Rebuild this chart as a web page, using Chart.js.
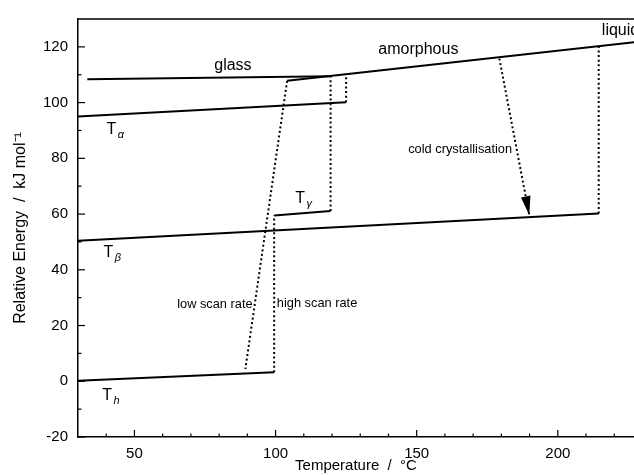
<!DOCTYPE html>
<html><head><meta charset="utf-8">
<script src="https://cdn.jsdelivr.net/npm/chart.js@4"></script>
<style>html,body{margin:0;padding:0;background:#fff;overflow:hidden}#wrap{width:634px;height:475px}</style>
</head><body><div id="wrap"><canvas id="c" width="634" height="475"></canvas></div>
<script>
// ---- axes ----
const xRange = [30, 227];
const yRange = [-20, 130];
const xTicks = [50, 100, 150, 200];
const xMinorTicks = [40, 60, 70, 80, 90, 110, 120, 130, 140, 160, 170, 180, 190, 210, 220];
const yTicks = [-20, 0, 20, 40, 60, 80, 100, 120];
const yMinorTicks = [-10, 10, 30, 50, 70, 90, 110];

// ---- solid lines [temperature, energy] ----
const glassLine = [[33.3, 108.4], [119.5, 109.5]];
const amorphousLine = [[104.1, 107.8], [227, 121.7]];
const tAlphaLine = [[30, 95.0], [125, 100.1]];
const tBetaLine = [[30, 50.4], [214.5, 60.2]];
const tGammaLine = [[99.5, 59.5], [119.5, 61.1]];
const tHLine = [[30, 0.2], [99.5, 3.2]];

// ---- dotted lines ----
const lowScanRate = [[104.1, 107.8], [89.3, 4.4]];
const highScanRate = [[99.5, 3.2], [99.5, 59.5]];
const gammaToGlass = [[119.5, 61.1], [119.5, 109.5]];
const alphaToAmorphous = [[125, 100.1], [125, 110.2]];
const melting = [[214.5, 60.2], [214.5, 120.4]];
const coldCrystallisation = [[179.3, 115.8], [189.9, 59.6]];

// ---- text labels ----
const bigLabels = [
  {text: 'glass', x: 84.9, y: 111.6, align: 'center'},
  {text: 'amorphous', x: 150.6, y: 117.5, align: 'center'},
  {text: 'liquid', x: 215.6, y: 124.1, align: 'left'}
];
const smallLabels = [
  {text: 'low scan rate', x: 78.5, y: 26.4},
  {text: 'high scan rate', x: 114.7, y: 26.8},
  {text: 'cold crystallisation', x: 165.4, y: 82.0}
];
const phaseLabels = [
  {main: 'T', sub: 'α', x: 40.1, y: 88.9},
  {main: 'T', sub: 'β', x: 39.0, y: 44.5},
  {main: 'T', sub: 'h', x: 38.6, y: -6.9},
  {main: 'T', sub: 'γ', x: 107.0, y: 64.0}
];

const FONT = 'Liberation Sans, Arial, Helvetica, sans-serif';
const toPts = a => a.map(([x, y]) => ({x, y}));
const solid = d => ({data: toPts(d), borderColor: '#000', backgroundColor: '#000', borderWidth: 2,
  pointRadius: 0, showLine: true, fill: false, tension: 0, borderCapStyle: 'butt'});
const dotted = d => Object.assign(solid(d), {borderDash: [2, 2.6], borderWidth: 2});

const decor = {
  id: 'decor',
  afterDatasetsDraw(chart) {
    const {ctx, chartArea: ca} = chart;
    const xs = chart.scales.x, ys = chart.scales.y;
    ctx.save();
    ctx.strokeStyle = '#000';
    ctx.fillStyle = '#000';
    // top frame line
    ctx.lineWidth = 1.5;
    ctx.beginPath(); ctx.moveTo(ca.left, ca.top); ctx.lineTo(ca.right, ca.top); ctx.stroke();
    // inward ticks
    ctx.lineWidth = 1.2;
    const tick = (x1, y1, x2, y2) => { ctx.beginPath(); ctx.moveTo(x1, y1); ctx.lineTo(x2, y2); ctx.stroke(); };
    xTicks.forEach(v => { const p = xs.getPixelForValue(v); tick(p, ca.bottom, p, ca.bottom - 7); });
    xMinorTicks.forEach(v => { const p = xs.getPixelForValue(v); tick(p, ca.bottom, p, ca.bottom - 3.5); });
    yTicks.forEach(v => { const p = ys.getPixelForValue(v); tick(ca.left, p, ca.left + 7, p); });
    yMinorTicks.forEach(v => { const p = ys.getPixelForValue(v); tick(ca.left, p, ca.left + 3.5, p); });
    // arrowhead on cold crystallisation
    const [a, b] = coldCrystallisation;
    const x1 = xs.getPixelForValue(a[0]), y1 = ys.getPixelForValue(a[1]);
    const x2 = xs.getPixelForValue(b[0]), y2 = ys.getPixelForValue(b[1]);
    const len = Math.hypot(x2 - x1, y2 - y1), ux = (x2 - x1) / len, uy = (y2 - y1) / len;
    const bx = x2 - ux * 19, by = y2 - uy * 19;
    ctx.beginPath();
    ctx.moveTo(x2, y2);
    ctx.lineTo(bx - uy * 4.8, by + ux * 4.8);
    ctx.lineTo(bx + uy * 4.8, by - ux * 4.8);
    ctx.closePath(); ctx.fill();
    // labels
    ctx.textBaseline = 'alphabetic';
    ctx.font = '16px ' + FONT;
    bigLabels.forEach(l => { ctx.textAlign = l.align; ctx.fillText(l.text, xs.getPixelForValue(l.x), ys.getPixelForValue(l.y)); });
    ctx.font = '12.8px ' + FONT;
    ctx.textAlign = 'center';
    smallLabels.forEach(l => ctx.fillText(l.text, xs.getPixelForValue(l.x), ys.getPixelForValue(l.y)));
    ctx.textAlign = 'left';
    phaseLabels.forEach(l => {
      const px = xs.getPixelForValue(l.x), py = ys.getPixelForValue(l.y);
      ctx.font = '16px ' + FONT;
      ctx.fillText(l.main, px, py);
      const w = ctx.measureText(l.main).width;
      ctx.font = 'italic 11px ' + FONT;
      ctx.fillText(l.sub, px + w + 1.5, py + 4);
    });
    ctx.restore();
  }
};

new Chart(document.getElementById('c'), {
  type: 'scatter',
  data: {datasets: [
    solid(glassLine), solid(amorphousLine), solid(tAlphaLine), solid(tBetaLine), solid(tGammaLine), solid(tHLine),
    dotted(lowScanRate), dotted(highScanRate), dotted(gammaToGlass), dotted(alphaToAmorphous), dotted(melting),
    dotted(coldCrystallisation)
  ]},
  options: {
    animation: false, responsive: false, events: [],
    plugins: {legend: {display: false}, tooltip: {enabled: false}},
    layout: {padding: {top: 14, right: 0, left: 0, bottom: 0}},
    scales: {
      x: {
        type: 'linear', min: xRange[0], max: xRange[1],
        afterBuildTicks: s => { s.ticks = xTicks.map(v => ({value: v})); },
        afterFit: s => { s.height = 38; },
        grid: {display: false, drawTicks: false},
        border: {display: true, color: '#000', width: 1.5},
        ticks: {color: '#000', font: {family: FONT, size: 15}, padding: 8, maxRotation: 0, autoSkip: false},
        title: {display: true, text: 'Temperature  /  °C', color: '#000', font: {family: FONT, size: 15}, padding: {top: 0, bottom: 0}}
      },
      y: {
        type: 'linear', min: yRange[0], max: yRange[1],
        afterBuildTicks: s => { s.ticks = yTicks.map(v => ({value: v})); },
        afterFit: s => { s.width = 78; },
        grid: {display: false, drawTicks: false},
        border: {display: true, color: '#000', width: 1.5},
        ticks: {color: '#000', font: {family: FONT, size: 15}, padding: 10, autoSkip: false},
        title: {display: true, text: 'Relative Energy  /  kJ mol⁻¹', color: '#000', font: {family: FONT, size: 16}, padding: {top: 11, bottom: 0}}
      }
    }
  },
  plugins: [decor]
});
</script></body></html>
